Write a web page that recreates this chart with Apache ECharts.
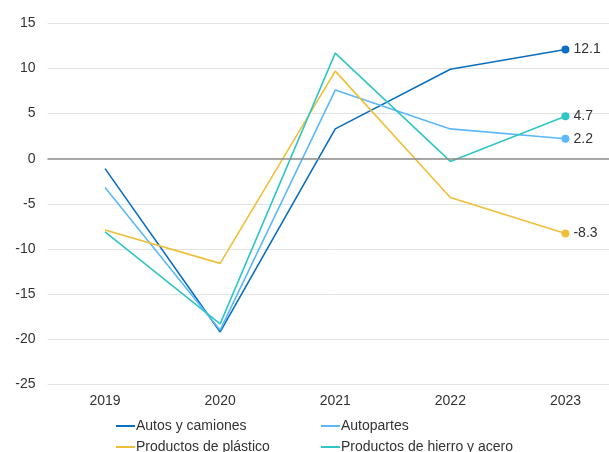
<!DOCTYPE html>
<html>
<head>
<meta charset="utf-8">
<script src="https://cdn.jsdelivr.net/npm/echarts@6/dist/echarts.min.js"></script>
<style>
  html, body { margin: 0; padding: 0; background: #fff; overflow: hidden; }
  /* plot area continues a little past the visible right edge */
  #chart { width: 623px; height: 452px; }
</style>
</head>
<body>
<div id="chart"></div>
<script>
// Annual growth (%) by product group
const years = ['2019', '2020', '2021', '2022', '2023'];
const autosCamiones = [-1.1, -19.2, 3.3, 9.9, 12.1];
const autopartes = [-3.2, -19.0, 7.6, 3.3, 2.2];
const plastico = [-7.9, -11.6, 9.7, -4.3, -8.3];
const hierroAcero = [-8.1, -18.3, 11.7, -0.3, 4.7];

const seriesNames = ['Autos y camiones', 'Autopartes', 'Productos de plástico', 'Productos de hierro y acero'];
const seriesData = [autosCamiones, autopartes, plastico, hierroAcero];
const colors = ['#0B6FC1', '#5CB8FA', '#F0BF3A', '#30C6C6'];

const font = 'Liberation Sans, Arial, sans-serif';

function makeSeries(name, data, color) {
  const last = data.length - 1;
  return {
    name: name,
    type: 'line',
    data: data.map((v, i) => i === last
      ? { value: v, symbol: 'circle', symbolSize: 8,
          label: { show: true, position: 'right', distance: 4,
                   formatter: p => p.value.toFixed(1),
                   color: '#333', fontSize: 14, fontFamily: font } }
      : { value: v, symbol: 'none' }),
    showSymbol: true,
    symbol: 'none',
    lineStyle: { color: color, width: 1.6 },
    itemStyle: { color: color },
    emphasis: { disabled: true },
    animation: false,
    z: 3
  };
}

// one legend per entry so the two columns line up
const legendPos = [
  { left: 116, top: 419 },
  { left: 321, top: 419 },
  { left: 116, top: 440 },
  { left: 321, top: 440 }
];
const legends = seriesNames.map((n, i) => ({
  data: [{ name: n, icon: 'rect' }],
  left: legendPos[i].left,
  top: legendPos[i].top,
  itemWidth: 19,
  itemHeight: 2,
  itemGap: 0,
  padding: 0,
  selectedMode: false,
  textStyle: { color: '#333', fontSize: 14, fontFamily: font, padding: [0, 0, 0, -4] }
}));

const chart = echarts.init(document.getElementById('chart'), null, { renderer: 'canvas' });
chart.setOption({
  backgroundColor: '#fff',
  color: colors,
  animation: false,
  legend: legends,
  grid: { left: 47.5, right: 0, top: 23.3, height: 361, containLabel: false },
  xAxis: {
    type: 'category',
    data: years,
    boundaryGap: true,
    axisLine: { show: false },
    axisTick: { show: false },
    axisLabel: { color: '#333', fontSize: 14, fontFamily: font, margin: 10 }
  },
  yAxis: {
    type: 'value',
    min: -25,
    max: 15,
    interval: 5,
    axisLine: { show: false },
    axisTick: { show: false },
    axisLabel: { color: '#333', fontSize: 14, fontFamily: font, margin: 12 },
    splitLine: { lineStyle: { color: '#E3E3E3', width: 1 } }
  },
  series: seriesNames.map((n, i) => makeSeries(n, seriesData[i], colors[i])).concat([{
    // zero reference line
    type: 'line',
    data: [],
    markLine: {
      silent: true,
      symbol: 'none',
      label: { show: false },
      lineStyle: { color: '#8C8C8C', width: 1.5, type: 'solid' },
      data: [{ yAxis: 0 }]
    },
    z: 2
  }])
});
</script>
</body>
</html>
